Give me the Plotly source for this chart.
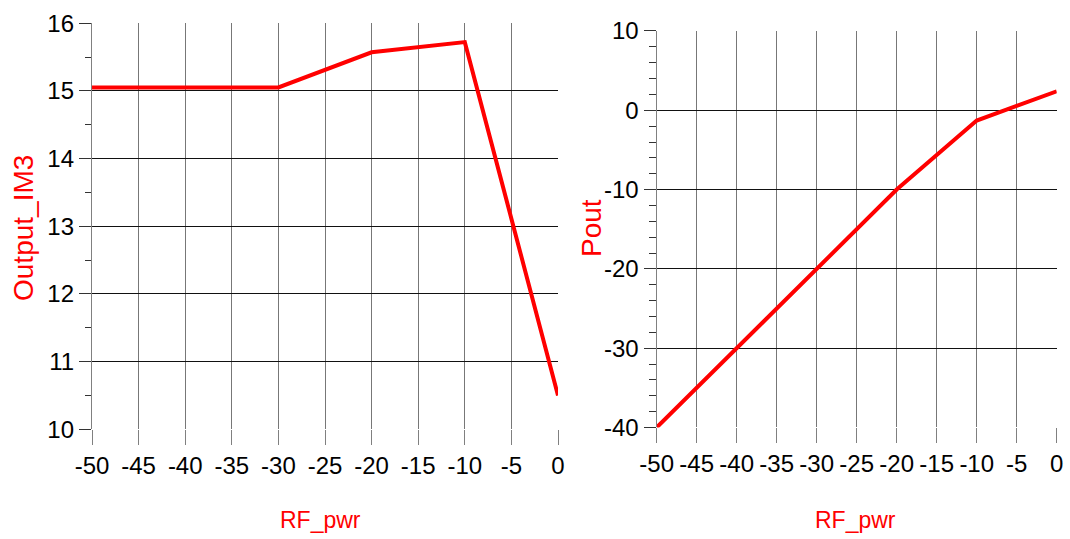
import plotly.graph_objects as go

rf_pwr = [-50, -40, -30, -20, -10, 0]
output_im3 = [15.05, 15.05, 15.05, 15.57, 15.72, 10.5]
pout = [-40.0, -30.0, -20.0, -10.0, -1.3, 2.4]

x_ticks = [-50, -45, -40, -35, -30, -25, -20, -15, -10, -5, 0]
y1_ticks = [10, 11, 12, 13, 14, 15, 16]
y2_ticks = [-40, -30, -20, -10, 0, 10]

FONT = "Liberation Sans, Arial, sans-serif"
TICKFONT = dict(family=FONT, size=24, color="black")
XTITLEFONT = dict(family=FONT, size=23, color="#ff0000")
YTITLEFONT = dict(family=FONT, size=28, color="#ff0000")

fig = go.Figure()
fig.add_trace(go.Scatter(x=rf_pwr, y=output_im3, mode="lines",
                         line=dict(color="#ff0000", width=4),
                         xaxis="x", yaxis="y", showlegend=False))
fig.add_trace(go.Scatter(x=rf_pwr, y=pout, mode="lines",
                         line=dict(color="#ff0000", width=4),
                         xaxis="x2", yaxis="y2", showlegend=False))

xcommon = dict(range=[-50, 0], tickmode="array", tickvals=x_ticks,
               ticktext=[str(v) for v in x_ticks], tickangle=0,
               ticks="outside", ticklen=15,
               tickcolor="#808080", tickwidth=1, showgrid=True,
               gridcolor="#777777", gridwidth=1.3, zeroline=False, showline=False,
               tickfont=TICKFONT, automargin=False)
ycommon = dict(tickmode="array", tickangle=0, ticks="outside", ticklen=12,
               tickcolor="#333333", tickwidth=1,
               showgrid=True, gridcolor="#111111", gridwidth=1.2, zeroline=False,
               showline=True, linecolor="#808080", linewidth=1.3,
               tickfont=TICKFONT, automargin=False)

fig.update_layout(
    width=1070, height=539,
    margin=dict(l=0, r=0, t=0, b=0),
    paper_bgcolor="white", plot_bgcolor="white",
    xaxis=dict(domain=[0.086, 0.5215], anchor="y", **xcommon),
    yaxis=dict(domain=[0.2035, 0.957], anchor="x", range=[10, 16],
               tickvals=y1_ticks, ticktext=[str(v) for v in y1_ticks],
               minor=dict(dtick=0.5, ticks="outside", ticklen=6, tickcolor="#333333", showgrid=False),
               **ycommon),
    xaxis2=dict(domain=[0.6137, 0.9876], anchor="y2", **xcommon),
    yaxis2=dict(domain=[0.2069, 0.9425], anchor="x2", range=[-40, 10],
                tickvals=y2_ticks, ticktext=[str(v) for v in y2_ticks],
                minor=dict(dtick=2, ticks="outside", ticklen=7, tickcolor="#333333", showgrid=False),
                **ycommon),
    annotations=[
        dict(text="RF_pwr", x=320, y=520, showarrow=False, font=XTITLEFONT),
        dict(text="RF_pwr", x=855, y=520, showarrow=False, font=XTITLEFONT),
        dict(text="Output_IM3", x=23, y=228, textangle=-90, showarrow=False, font=YTITLEFONT),
        dict(text="Pout", x=591, y=228, textangle=-90, showarrow=False, font=YTITLEFONT),
    ],
)

# convert pixel positions of the axis titles into paper fractions
for ann in fig.layout.annotations:
    ann.x = ann.x / 1070
    ann.y = 1 - ann.y / 539
    ann.xref = "paper"
    ann.yref = "paper"
    ann.xanchor = "center"
    ann.yanchor = "middle"

fig.write_html("out.html")
